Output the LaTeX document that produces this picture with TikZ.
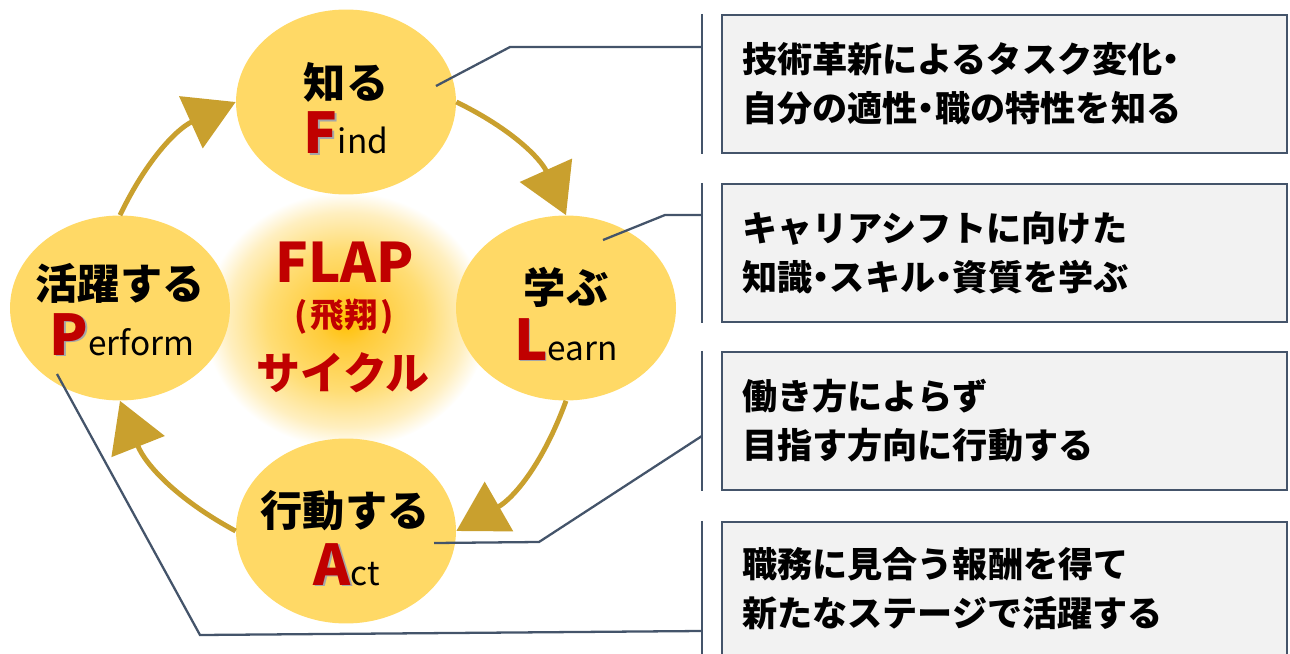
\documentclass[tikz,border=0pt]{standalone}
\usepackage{fontspec}
\setmainfont{Noto Sans CJK JP}
\usetikzlibrary{shapes.geometric,arrows.meta,calc}
\definecolor{cyc}{HTML}{FFD966}
\definecolor{arr}{HTML}{C9A02E}
\definecolor{dred}{HTML}{C00000}
\definecolor{slate}{HTML}{44546A}
\definecolor{boxfill}{HTML}{F2F2F2}
\definecolor{glowA}{HTML}{FFC000}
\definecolor{glowB}{HTML}{FFCC3A}
\definecolor{glowC}{HTML}{FFDD75}
\definecolor{glowD}{HTML}{FFEFC0}
\pgfdeclareradialshading{glowshade}{\pgfpoint{0bp}{0bp}}{color(0bp)=(glowA); color(5bp)=(glowB); color(14bp)=(glowC); color(21bp)=(glowD); color(25bp)=(white); color(50bp)=(white)}
\newcommand{\shl}[1]{\makebox[0pt][l]{\kern1pt\raisebox{-1pt}{\color{black!35}#1}}#1}
\newcommand{\capl}[1]{{\fontsize{32}{32}\selectfont\bfseries\color{dred}\shl{#1}}}
\newcommand{\ndot}{\kern-0.25em ・\kern-0.25em }
\tikzset{
  stage/.style={ellipse, fill=cyc, minimum width=4.4cm, minimum height=3.7cm, inner sep=0pt},
  jp/.style={font=\fontsize{24}{24}\selectfont\bfseries},
  en/.style={anchor=base, font=\fontsize{19}{19}\selectfont},
  cycarrow/.style={draw=arr, line width=2.8pt, -{Triangle[length=28pt,width=32pt]}},
  link/.style={draw=slate, line width=1.3pt},
  infobox/.style={draw=slate, line width=1.3pt, fill=boxfill, minimum width=11.3cm,
    minimum height=2.76cm, inner xsep=0.4cm, text width=10.5cm, align=left,
    font=\fontsize{20}{27.8}\selectfont\bfseries},
  center/.style={text=dred, font=\bfseries}
}
\begin{document}
\begin{tikzpicture}[x=0.02cm,y=0.02cm]
\useasboundingbox (0,0) rectangle (1290,653);
\clip (0,0) rectangle (1290,653);
% glow
\shade[shading=glowshade] (346,333) ellipse [x radius=142, y radius=128];
% stages
\node[stage] (find) at (346,551) {};
\node[stage] (learn) at (566,345) {};
\node[stage] (act) at (346,122) {};
\node[stage] (perform) at (120,345) {};
% cycle arrows
\draw[cycarrow] (find.east) to[bend left=20] (learn.north);
\draw[cycarrow] (learn.south) to[bend left=20] (act.east);
\draw[cycarrow] (act.west) to[bend left=20] (perform.south);
\draw[cycarrow] (perform.north) to[bend left=20] (find.west);
% stage labels
\node[jp] (findjp) at (346,571) {知る};
\node[en] (finden) at (346,499) {\capl{F}ind};
\node[jp] (learnjp) at (566,366) {学ぶ};
\node[en] (learnen) at (566,293) {\capl{L}earn};
\node[jp] (actjp) at (345,142) {行動する};
\node[en] (acten) at (347,68) {\capl{A}ct};
\node[jp] (perfjp) at (120,370) {活躍する};
\node[en] (perfen) at (122,298) {\capl{P}erform};
% center
\node[center, anchor=base, font=\fontsize{31}{31}\selectfont\bfseries] (flap) at (345,371) {FLAP};
\node[center, font=\fontsize{19}{19}\selectfont\bfseries] (hisho) at (344,336) {(\kern0.08em 飛翔\kern0.08em )};
\node[center, font=\fontsize{25}{25}\selectfont\bfseries] (cycle) at (343,280) {サイクル};
% boxes
\node[infobox] (box1) at (1004.5,569) {技術革新によるタスク変化\ndot\\自分の適性\ndot 職の特性を知る};
\node[infobox] (box2) at (1004.5,400) {キャリアシフトに向けた\\知識\ndot スキル\ndot 資質を学ぶ};
\node[infobox] (box3) at (1004.5,232) {働き方によらず\\目指す方向に行動する};
\node[infobox, minimum height=2.68cm] (box4) at (1004.5,64) {職務に見合う報酬を得て\\新たなステージで活躍する};
% brackets
\foreach \b in {box1,box2,box3,box4}
  \draw[link] ($(\b.north west)+(-19,0)$) -- ($(\b.south west)+(-19,0)$);
% connectors
\coordinate (p1) at ($(find.center)+(90,16)$);
\coordinate (k1) at ($(box1.west)+(-19,37)$);
\draw[link] (p1) -- ++(74,39) -- (k1);
\coordinate (p2) at ($(learn.center)+(37,68)$);
\coordinate (k2) at ($(box2.west)+(-19,38)$);
\draw[link] (p2) -- ++(62,25) -- (k2);
\coordinate (p3) at ($(act.center)+(88,-12)$);
\coordinate (k3) at ($(box3.west)+(-19,-15)$);
\draw[link] (p3) -- ++(105,1) -- (k3);
\coordinate (p4) at ($(perform.center)+(-63,-66)$);
\coordinate (k4) at ($(box4.west)+(-19,-42)$);
\draw[link] (p4) -- ++(143,-261) -- (k4);
\end{tikzpicture}
\end{document}
